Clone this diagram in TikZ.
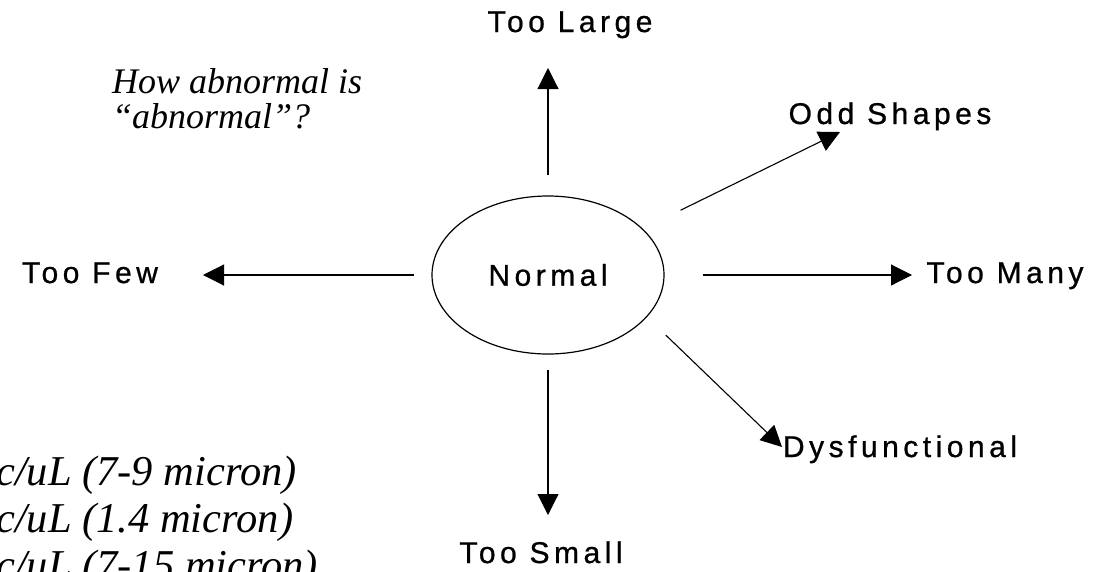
\documentclass[tikz,border=0pt]{standalone}
\usepackage{fontspec}
\setmainfont{Liberation Serif}
\newfontfamily\arialsp[LetterSpace=15,FakeBold=0.8]{Liberation Sans}
\usetikzlibrary{arrows.meta, positioning, shapes.geometric}
\tikzset{
  lbl/.style={font=\arialsp\fontsize{30}{34}\selectfont,inner sep=0pt},
  qtext/.style={font=\itshape\fontsize{36}{40}\selectfont,inner sep=0pt,anchor=base west},
  datatext/.style={font=\itshape\fontsize{42.5}{46}\selectfont,inner sep=0pt,anchor=base west},
  blob/.style={ellipse,draw,line width=1.2pt,minimum width=232pt,minimum height=158pt,inner sep=0pt},
  arrow/.style={-{Triangle[length=21pt,width=21pt]},line width=1.1pt,#1},
}
\begin{document}
\begin{tikzpicture}[x=1pt,y=-1pt]
    \clip (0,0) rectangle (1097,571);
    \node[blob,lbl] (normal) at (548,275) {Normal};
    % outcomes round the centre
    \foreach \name/\x/\y/\txt in {large/570/32/Too Large, few/90/283/Too Few,
        many/1005/283/Too Many, small/541/563/Too Small,
        odd/890/124/Odd Shapes, dys/900/457/Dysfunctional} {
      \node[lbl,anchor=base] (\name) at (\x,\y) {\txt};
    }
    \foreach \tip/\x/\y/\from/\gap in {largetip/548/68/north/20, fewtip/203/275/west/17,
        manytip/912/275/east/38, smalltip/548/515/south/15,
        oddtip/840/132/26/42, dystip/782/447/-23/26} {
      \coordinate (\tip) at (\x,\y);
      \draw[arrow, shorten <=\gap pt] (normal.\from) -- (\tip);
    }
    \node[qtext] (q1) at (112,93) {How abnormal is};
    \node[qtext] (q2) at (112,128) {“abnormal”?};
    \node[datatext] (d1) at (-4,485) {c/uL (7-9 micron)};
    \node[datatext] (d2) at (-4,532) {c/uL (1.4 micron)};
    \node[datatext] (d3) at (-4,579) {c/uL (7-15 micron)};
  \end{tikzpicture}
\end{document}
